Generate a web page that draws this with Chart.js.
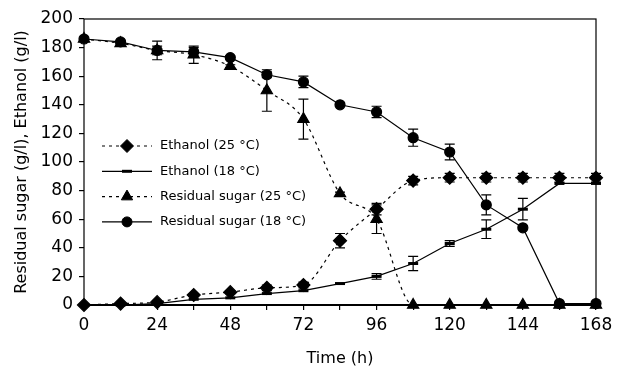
<!DOCTYPE html>
<html>
<head>
<meta charset="utf-8">
<script src="https://cdn.jsdelivr.net/npm/chart.js@4/dist/chart.umd.min.js"></script>
<style>
  html, body { margin: 0; padding: 0; background: #fff; }
</style>
</head>
<body>
<canvas id="chart" width="622" height="370"></canvas>
<script>
const hours = [0, 12, 24, 36, 48, 60, 72, 84, 96, 108, 120, 132, 144, 156, 168];

const ethanol25 = [0, 1, 2, 7, 9, 12, 14, 45, 67, 87, 89, 89, 89, 89, 89];
const ethanol25Err = [0, 0, 1, 1, 1, 2, 2, 5, 4, 3, 3, 3, 3, 3, 3];

const ethanol18 = [0, 0, 1, 4, 5, 8, 10, 15, 20, 29, 43, 53, 67, 85, 85];
const ethanol18Err = [0, 0, 0, 0, 0, 0, 0, 0, 2, 5, 2, 6.5, 7.5, 0, 0];

const sugar25 = [186, 183, 178, 175, 167, 150, 130, 78, 60, 0, 0, 0, 0, 0, 0];
const sugar25Err = [0, 1, 6.5, 6, 1, 14.5, 14, 1, 10, 0, 0, 0, 0, 0, 0];

const sugar18 = [186, 184, 178, 177, 173, 161, 156, 140, 135, 117, 107, 70, 54, 1, 1];
const sugar18Err = [0, 1, 3, 3, 1, 2, 4, 1, 4, 6, 5.5, 7, 1, 0, 0];

const xTickLabels = ['0', '24', '48', '72', '96', '120', '144', '168'];
const yTicks = [0, 20, 40, 60, 80, 100, 120, 140, 160, 180, 200];

const FONT = 'DejaVu Sans';

function toPoints(vals) {
   return hours.map((h, i) => ({ x: h, y: vals[i] }));
}

// error bars with caps
const errorBars = {
   id: 'errorBars',
   afterDatasetsDraw(chart) {
      const ctx = chart.ctx;
      const xs = chart.scales.x, ys = chart.scales.y;
      ctx.save();
      ctx.strokeStyle = '#000';
      ctx.lineWidth = 1.2;
      chart.data.datasets.forEach(ds => {
         ds.data.forEach((p, i) => {
            const e = ds.errors[i];
            if (!e) return;
            const px = xs.getPixelForValue(p.x);
            const top = ys.getPixelForValue(p.y + e);
            const bot = ys.getPixelForValue(p.y - e);
            ctx.beginPath();
            ctx.moveTo(px, top); ctx.lineTo(px, bot);
            ctx.moveTo(px - 5, top); ctx.lineTo(px + 5, top);
            ctx.moveTo(px - 5, bot); ctx.lineTo(px + 5, bot);
            ctx.stroke();
         });
      });
      ctx.restore();
   }
};

// frame around plot + legend inside plot
const frameAndLegend = {
   id: 'frameAndLegend',
   afterDraw(chart) {
      const ctx = chart.ctx;
      const a = chart.chartArea;
      ctx.save();
      ctx.strokeStyle = '#000';
      ctx.lineWidth = 1.2;
      ctx.strokeRect(a.left, a.top, a.right - a.left, a.bottom - a.top);
      ctx.lineWidth = 2;
      ctx.beginPath();
      ctx.moveTo(a.left, a.bottom); ctx.lineTo(a.right, a.bottom);
      ctx.stroke();

      const x0 = 102, x1 = 152, tx = 160;
      let y = 146;
      ctx.font = '13px ' + FONT;
      ctx.textBaseline = 'middle';
      chart.data.datasets.forEach(ds => {
         ctx.strokeStyle = '#000';
         ctx.fillStyle = '#000';
         ctx.lineWidth = 1.2;
         ctx.setLineDash(ds.borderDash || []);
         ctx.beginPath();
         ctx.moveTo(x0, y); ctx.lineTo(x1, y);
         ctx.stroke();
         ctx.setLineDash([]);
         ctx.lineWidth = ds.pointBorderWidth || 1;
         Chart.helpers.drawPoint(ctx, {
            pointStyle: ds.pointStyle, radius: ds.pointRadius, rotation: 0, borderWidth: ds.pointBorderWidth || 1
         }, (x0 + x1) / 2, y);
         ctx.fillStyle = '#000';
         ctx.fillText(ds.label, tx, y);
         y += 25.3;
      });
      ctx.restore();
   }
};

const common = {
   borderColor: '#000',
   backgroundColor: '#000',
   pointBackgroundColor: '#000',
   pointBorderColor: '#000',
   borderWidth: 1.2,
   clip: false
};

new Chart(document.getElementById('chart'), {
   type: 'line',
   data: {
      datasets: [
         { ...common, label: 'Ethanol (25 °C)', data: toPoints(ethanol25), errors: ethanol25Err,
           borderDash: [3, 4], cubicInterpolationMode: 'monotone', pointStyle: 'rectRot', pointRadius: 6.5 },
         { ...common, label: 'Ethanol (18 °C)', data: toPoints(ethanol18), errors: ethanol18Err,
           tension: 0, pointStyle: 'line', pointRadius: 5, pointBorderWidth: 3 },
         { ...common, label: 'Residual sugar (25 °C)', data: toPoints(sugar25), errors: sugar25Err,
           borderDash: [3, 4], cubicInterpolationMode: 'monotone', pointStyle: 'triangle', pointRadius: 6.5 },
         { ...common, label: 'Residual sugar (18 °C)', data: toPoints(sugar18), errors: sugar18Err,
           tension: 0, pointStyle: 'circle', pointRadius: 5 }
      ]
   },
   options: {
      responsive: false,
      animation: false,
      layout: { padding: { top: 19, right: 26, left: 0, bottom: 0 } },
      plugins: { legend: { display: false }, tooltip: { enabled: false } },
      scales: {
         x: {
            type: 'linear',
            min: 0, max: 168,
            afterBuildTicks: s => { s.ticks = hours.map(v => ({ value: v })); },
            afterFit: s => { s.height = 65; },
            grid: { drawOnChartArea: false, color: '#000', tickLength: 5, lineWidth: 1.2 },
            border: { display: false },
            ticks: {
               color: '#000', font: { family: FONT, size: 17 }, padding: 5, maxRotation: 0, autoSkip: false,
               callback: v => xTickLabels.includes(String(v)) ? String(v) : ''
            },
            title: { display: true, text: 'Time (h)', color: '#000', font: { family: FONT, size: 16 }, padding: { top: 4, bottom: 2 } }
         },
         y: {
            min: 0, max: 200,
            afterBuildTicks: s => { s.ticks = yTicks.map(v => ({ value: v })); },
            afterFit: s => { s.width = 84; },
            grid: { drawOnChartArea: false, color: '#000', tickLength: 5, lineWidth: 1.2 },
            border: { display: false },
            ticks: { color: '#000', font: { family: FONT, size: 17 }, padding: 6 },
            title: { display: true, text: 'Residual sugar (g/l), Ethanol (g/l)', color: '#000', font: { family: FONT, size: 16 }, padding: { top: 12, bottom: 0 } }
         }
      }
   },
   plugins: [errorBars, frameAndLegend]
});
</script>
</body>
</html>
